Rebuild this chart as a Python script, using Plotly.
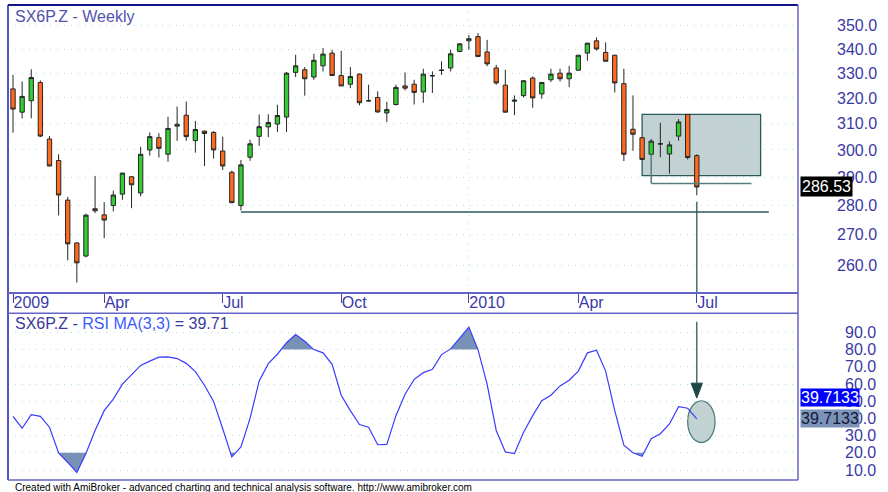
import math
import plotly.graph_objects as go

# ---------------- data ----------------
ticker = "SX6P.Z"
bar_index = list(range(76))  # weekly bars, late Jan 2009 .. early Jul 2010

opens = [323.6, 314.4, 318.9, 326.2, 304.1, 296.1, 281.9, 267.3, 263.0, 278.9,
         276.8, 280.0, 284.0, 290.2, 284.4, 300.0, 304.6, 298.4, 309.0, 313.2,
         303.5, 307.1, 306.6, 299.6, 291.8, 280.0, 297.3, 305.1, 308.7, 309.8,
         312.5, 330.3, 331.4, 328.4, 333.0, 338.3, 329.0, 325.5, 329.6, 318.8,
         320.2, 314.1, 317.4, 324.8, 325.5, 322.4, 329.0, 331.1, 332.1, 339.0,
         343.5, 345.3, 338.8, 332.1, 325.1, 318.7, 320.9, 328.0, 321.6, 327.3,
         330.0, 327.7, 331.2, 338.3, 343.5, 338.6, 337.4, 325.7, 307.8, 304.6,
         298.4, 302.2, 298.5, 305.2, 313.5, 297.9]
highs = [329.3, 326.6, 331.6, 327.0, 305.2, 298.4, 283.0, 267.5, 277.2, 290.5,
         281.2, 285.2, 291.7, 290.5, 301.2, 306.6, 306.3, 312.6, 316.6, 318.6,
         311.0, 307.3, 307.1, 305.0, 292.4, 296.3, 303.8, 313.5, 313.6, 317.3,
         330.5, 337.6, 332.5, 338.0, 340.4, 339.7, 339.3, 332.5, 329.8, 325.3,
         322.6, 318.5, 325.3, 330.3, 327.3, 331.8, 330.7, 334.9, 339.7, 342.5,
         346.0, 346.8, 343.9, 333.4, 331.4, 321.0, 327.1, 328.6, 326.4, 331.8,
         331.8, 333.0, 337.6, 342.7, 344.9, 342.8, 337.6, 331.8, 321.0, 304.8,
         304.1, 310.3, 303.2, 311.7, 313.6, 298.4]
lows = [306.5, 312.0, 312.0, 304.8, 294.0, 276.6, 261.6, 254.5, 262.6, 277.4,
        268.9, 278.0, 282.0, 279.1, 283.2, 297.9, 297.2, 295.7, 303.4, 303.4,
        299.0, 294.1, 296.8, 292.6, 280.9, 278.3, 296.0, 301.5, 304.8, 306.8,
        306.7, 328.4, 320.9, 327.3, 330.7, 328.9, 324.8, 323.9, 317.1, 318.5,
        314.1, 310.6, 317.0, 323.0, 317.4, 318.1, 322.0, 329.3, 330.7, 338.7,
        339.7, 336.8, 332.8, 325.3, 314.3, 313.2, 320.2, 316.1, 319.7, 326.4,
        326.6, 324.3, 331.0, 335.1, 339.4, 334.9, 322.2, 295.9, 299.7, 296.3,
        298.2, 297.3, 291.3, 303.5, 296.5, 283.6]
closes = [315.6, 320.6, 328.2, 305.2, 294.1, 283.7, 267.0, 260.8, 276.7, 278.2,
          275.0, 283.7, 291.5, 287.3, 298.4, 305.0, 300.6, 308.1, 309.7, 305.0,
          307.7, 306.2, 300.0, 294.1, 281.0, 294.5, 302.3, 308.8, 310.4, 313.1,
          330.0, 333.0, 327.7, 335.3, 337.9, 329.0, 324.8, 328.6, 318.1, 318.9,
          314.5, 315.4, 324.2, 323.9, 322.2, 329.6, 328.9, 331.2, 338.0, 342.2,
          344.4, 336.9, 333.8, 326.0, 314.4, 319.1, 326.9, 320.0, 326.2, 329.6,
          327.7, 330.0, 337.4, 342.5, 340.0, 334.9, 326.0, 298.4, 305.9, 296.5,
          303.3, 302.3, 301.9, 310.6, 297.2, 286.53]
rsi_ma = [41.2, 34.3, 42.2, 41.2, 34.9, 19.9, 14.4, 8.6, 19.6, 33.0,
          44.5, 51.2, 59.9, 65.6, 70.8, 73.3, 75.6, 75.8, 74.8, 72.0,
          67.2, 59.3, 49.9, 34.0, 17.6, 23.4, 40.0, 61.8, 71.8, 77.3,
          84.0, 88.7, 84.8, 80.0, 78.1, 71.4, 53.5, 44.5, 36.4, 34.9,
          24.7, 24.9, 41.6, 54.1, 62.7, 66.6, 68.5, 77.1, 80.4, 86.7,
          93.1, 80.0, 59.9, 33.0, 20.5, 19.6, 32.0, 41.6, 50.3, 53.5,
          58.9, 62.2, 67.5, 78.1, 79.6, 67.5, 44.5, 24.4, 20.0, 18.0,
          28.2, 31.1, 36.8, 46.8, 45.9, 39.71]

month_tick_bars = [0, 10, 23, 36, 50, 62, 75]
month_tick_labels = ["2009", "Apr", "Jul", "Oct", "2010", "Apr", "Jul"]
price_ticks = [260, 270, 280, 290, 300, 310, 320, 330, 340, 350]
rsi_ticks = [10, 20, 30, 40, 50, 60, 70, 80, 90]
last_close = 286.53
last_rsi = 39.7133
rsi_upper, rsi_lower = 80, 20

# annotation levels (analyst drawings)
support_level = 277.8
support_start_bar = 25
support_end_bar = 82.9
box_bars = (69, 82)
box_prices = (290.6, 313.5)
lline_bar, lline_top, lline_level, lline_end = 70, 298.4, 287.8, 81
signal_bar = 75
signal_price_top = 281.3

# ---------------- styling ----------------
FONT = "Arial, 'Liberation Sans', sans-serif"
LABEL_C = "#3a3aa6"
FRAME_C = "#6464c6"
TEAL = "#2c5a5a"
BOXFILL = "#c2d1d1"
GRID_C = "#a4e2e2"
X_RANGE = [-0.55, 86.1]
Y_LOG_RANGE = [2.40005, 2.55522]
RSI_RANGE = [4.2, 101.1]
TOP_DOM = [0.39368, 1.0]
BOT_DOM = [0.0, 0.35095]

fig = go.Figure()

fig.add_trace(go.Candlestick(
    x=bar_index, open=opens, high=highs, low=lows, close=closes,
    xaxis="x", yaxis="y",
    increasing=dict(fillcolor="#33cc33", line=dict(color="#262626", width=1)),
    decreasing=dict(fillcolor="#ff6a1f", line=dict(color="#262626", width=1)),
    whiskerwidth=0, showlegend=False, hoverinfo="skip",
))


def zone_polygons(values, level, above=True):
    polys, cur = [], None
    n = len(values)
    for i, v in enumerate(values):
        inside = v > level if above else v < level
        if inside:
            if cur is None:
                if i > 0:
                    pv = values[i - 1]
                    t = (level - pv) / (v - pv)
                    cur = [(i - 1 + t, level)]
                else:
                    cur = [(i, level)]
            cur.append((i, v))
        elif cur is not None:
            pv = values[i - 1]
            t = (level - pv) / (v - pv)
            cur.append((i - 1 + t, level))
            polys.append(cur)
            cur = None
    if cur is not None:
        cur.append((n - 1, level))
        polys.append(cur)
    return polys


for poly in zone_polygons(rsi_ma, rsi_upper, True) + zone_polygons(rsi_ma, rsi_lower, False):
    fig.add_trace(go.Scatter(
        x=[p[0] for p in poly], y=[p[1] for p in poly], fill="toself",
        fillcolor="#7891b6", line=dict(width=0), mode="lines",
        xaxis="x2", yaxis="y2", showlegend=False, hoverinfo="skip"))

fig.add_trace(go.Scatter(
    x=bar_index, y=rsi_ma, mode="lines", line=dict(color="#3b3bff", width=1.2),
    xaxis="x2", yaxis="y2", showlegend=False, hoverinfo="skip"))

shapes = []
# price panel drawings
shapes.append(dict(type="line", xref="x", yref="y domain", x0=50, x1=50, y0=0, y1=1,
                   line=dict(color=GRID_C, width=1, dash="1px,6px"), layer="below"))
shapes.append(dict(type="rect", xref="x", yref="y", x0=box_bars[0], x1=box_bars[1],
                   y0=box_prices[0], y1=box_prices[1], fillcolor=BOXFILL,
                   line=dict(color=TEAL, width=1.3), layer="below"))
shapes.append(dict(type="line", xref="x", yref="y", x0=lline_bar, x1=lline_bar,
                   y0=lline_top, y1=lline_level, line=dict(color="#557f7f", width=1.5)))
shapes.append(dict(type="line", xref="x", yref="y", x0=lline_bar, x1=lline_end,
                   y0=lline_level, y1=lline_level, line=dict(color="#557f7f", width=1.5)))
shapes.append(dict(type="line", xref="x", yref="y", x0=support_start_bar, x1=support_end_bar,
                   y0=support_level, y1=support_level, line=dict(color=TEAL, width=1.5)))
shapes.append(dict(type="line", xref="x", yref="y", x0=signal_bar, x1=signal_bar,
                   y0=signal_price_top, y1=10 ** Y_LOG_RANGE[0], line=dict(color=TEAL, width=1.3)))
# rsi panel drawings
arrow_tip, arrow_head_top, arrow_start = 51.8, 60.5, 96.2
shapes.append(dict(type="line", xref="x2", yref="y2", x0=signal_bar, x1=signal_bar,
                   y0=arrow_start, y1=arrow_head_top, line=dict(color=TEAL, width=1.3)))
shapes.append(dict(type="path", xref="x2", yref="y2",
                   path=f"M {signal_bar-0.62},{arrow_head_top} L {signal_bar+0.62},{arrow_head_top} "
                        f"L {signal_bar},{arrow_tip} Z",
                   fillcolor="#1d4848", line=dict(color="#1d4848", width=1)))
shapes.append(dict(type="circle", xref="x2", yref="y2", x0=74.0, x1=77.0, y0=26.0, y1=50.2,
                   fillcolor=BOXFILL, line=dict(color="#4f7f7f", width=1.3), layer="below"))

# frame lines (paper)
def pline(x0, y0, x1, y1, color=FRAME_C, width=1.5):
    shapes.append(dict(type="line", xref="paper", yref="paper", x0=x0, y0=y0, x1=x1, y1=y1,
                       line=dict(color=color, width=width)))

pline(0, 1, 1, 1, "#14148a", 2)
pline(0, 0, 0, 1, "#1a1ab4", 1.5)
pline(1, 0, 1, 1)
pline(0, TOP_DOM[0], 1, TOP_DOM[0], FRAME_C, 2)
pline(0, BOT_DOM[1], 1, BOT_DOM[1])
pline(0, 0, 1, 0)

annotations = [
    dict(xref="paper", yref="paper", x=0.0063, y=0.9768, xanchor="left", yanchor="middle",
         text=f"{ticker} - Weekly", showarrow=False,
         font=dict(family=FONT, size=16, color="#5252ae")),
    dict(xref="paper", yref="paper", x=0.0063, y=0.3299, xanchor="left", yanchor="middle",
         text=f"<span style='color:#3a3a9e'>{ticker} - </span><span style='color:#3b5bff'>RSI MA(3,3)</span>"
              f"<span style='color:#3a3a9e'> = {last_rsi:.2f}</span>",
         showarrow=False, font=dict(family=FONT, size=16)),
    dict(xref="paper", yref="y", x=1, xshift=2, y=math.log10(last_close), xanchor="left",
         yanchor="middle", text=f"{last_close:.2f}", showarrow=False, bgcolor="black",
         borderpad=1, font=dict(family=FONT, size=16, color="white")),
    dict(xref="paper", yref="y2", x=1, xshift=2, y=52.0, xanchor="left", yanchor="middle",
         text=f"{last_rsi:.4f}", showarrow=False, bgcolor="#0000ff", borderpad=0,
         font=dict(family=FONT, size=16, color="white")),
    dict(xref="paper", yref="y2", x=1, xshift=2, y=last_rsi, xanchor="left", yanchor="middle",
         text=f"{last_rsi:.4f}", showarrow=False, bgcolor="#7b93b7", borderpad=0,
         font=dict(family=FONT, size=16, color="#15153a")),
    dict(xref="paper", yref="paper", x=0.0063, y=0, yshift=-7, xanchor="left", yanchor="middle",
         text="Created with AmiBroker - advanced charting and technical analysis software. http://www.amibroker.com",
         showarrow=False, font=dict(family=FONT, size=10, color="black")),
]

fig.update_layout(
    width=888, height=492,
    margin=dict(l=8, r=90, t=5, b=12),
    paper_bgcolor="white", plot_bgcolor="white",
    showlegend=False,
    boxgap=0.32,
    shapes=shapes, annotations=annotations,
    xaxis=dict(domain=[0, 1], anchor="y", range=X_RANGE, rangeslider=dict(visible=False),
               tickmode="array", tickvals=month_tick_bars, ticktext=month_tick_labels,
               ticks="outside", ticklen=9, tickcolor="#4040a8", tickwidth=1,
               ticklabelposition="outside right", ticklabelstandoff=-5,
               showgrid=False, zeroline=False, showline=False,
               tickfont=dict(family=FONT, size=16, color=LABEL_C)),
    yaxis=dict(domain=TOP_DOM, anchor="x", type="log", range=Y_LOG_RANGE, side="right",
               tickmode="array", tickvals=price_ticks, ticktext=[f"{v:.1f}" for v in price_ticks],
               ticks="", ticklabelstandoff=38, showgrid=True, gridcolor=GRID_C, griddash="1px,6px",
               gridwidth=1, zeroline=False, showline=False,
               tickfont=dict(family=FONT, size=16, color=LABEL_C)),
    xaxis2=dict(domain=[0, 1], anchor="y2", range=X_RANGE, matches="x", showticklabels=False,
                ticks="", showgrid=False, zeroline=False, showline=False),
    yaxis2=dict(domain=BOT_DOM, anchor="x2", range=RSI_RANGE, side="right",
                tickmode="array", tickvals=rsi_ticks, ticktext=[f"{v:.1f}" for v in rsi_ticks],
                ticks="", ticklabelstandoff=46, showgrid=True, gridcolor=GRID_C, griddash="1px,6px",
                gridwidth=1, zeroline=False, showline=False,
                tickfont=dict(family=FONT, size=16, color=LABEL_C)),
)

fig.write_html("out.html", config={"displayModeBar": False},
               post_script="document.body.style.margin='0px';document.body.style.overflow='hidden';")
